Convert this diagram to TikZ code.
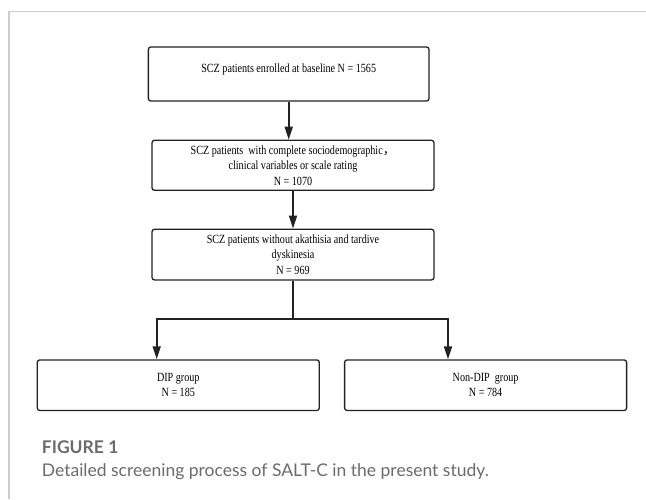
\documentclass[tikz,border=0pt]{standalone}
\usepackage{fontspec}
\usepackage{tikz}
\usetikzlibrary{arrows.meta, positioning, calc}
\newfontfamily\boxfont[FakeStretch=0.81]{Liberation Serif}
\newfontfamily\capfont{Lato}
\newfontfamily\cjk{Noto Sans CJK SC}
\definecolor{framegray}{HTML}{CCCCCC}
\definecolor{capgray}{HTML}{6B6B6B}
\definecolor{linedark}{HTML}{222222}

\begin{document}
\begin{tikzpicture}[
  x=1pt, y=1pt,
  node distance=38pt and 24pt,
  every node/.style={font=\boxfont\fontsize{12.5}{15.5}\selectfont},
  flowbox/.style={draw=linedark, line width=1.3pt, rounded corners=2.5pt, fill=white,
    minimum width=282pt, minimum height=50.6pt, align=center, inner sep=0pt},
  arrow/.style={-{Triangle[length=13pt, width=8pt]}, line width=1.7pt, linedark},
  link/.style={line width=1.7pt, linedark},
  caption/.style={font=\capfont\fontsize{17.5}{23}\selectfont, text=capgray,
    anchor=base west, inner sep=0pt},
]
\useasboundingbox (0,0) rectangle (646,-499);

% Frame
\draw[framegray, line width=1.5pt] (646,-11.7) -- (9,-11.7) -- (9,-499);

% Screening steps
\node[flowbox, minimum width=280.7pt, minimum height=54pt] (enrol) at (288.7,-74)
  {SCZ patients enrolled at baseline N = 1565\\[-4pt]\mbox{}};
\node[flowbox, minimum height=50pt, below=38pt of enrol, xshift=4.3pt] (complete)
  {SCZ patients\ \ with complete sociodemographic{\cjk ，}\\clinical variables or scale rating\\N = 1070};
\node[flowbox, below=37.7pt of complete] (noakat)
  {SCZ patients without akathisia and tardive\\dyskinesia\\N = 969};

% Groups
\node[flowbox, below=78.7pt of noakat, xshift=-114.7pt] (dip) {DIP group\\N = 185};
\node[flowbox, right=24pt of dip] (nondip) {Non-DIP\ \ group\\N = 784};

% Arrows
\draw[arrow] (enrol.south) -- (enrol.south |- complete.north);
\draw[arrow] (complete.south) -- (noakat.north);

\coordinate[below=38.7pt of noakat.south] (split);
\coordinate (dipin) at ([xshift=-21.6pt]dip.north);
\coordinate (nondipin) at ([xshift=-37.6pt]nondip.north);
\draw[link] (noakat.south) -- (split);
\draw[arrow] (split) -| (dipin);
\draw[arrow] (split) -| (nondipin);

% Caption
\node[caption, font=\capfont\bfseries\fontsize{17.5}{23}\selectfont] (figlabel) at (41.7,-453.3) {FIGURE 1};
\node[caption] (figtext) at (41.7,-476.7) {Detailed screening process of SALT-C in the present study.};

\end{tikzpicture}
\end{document}
